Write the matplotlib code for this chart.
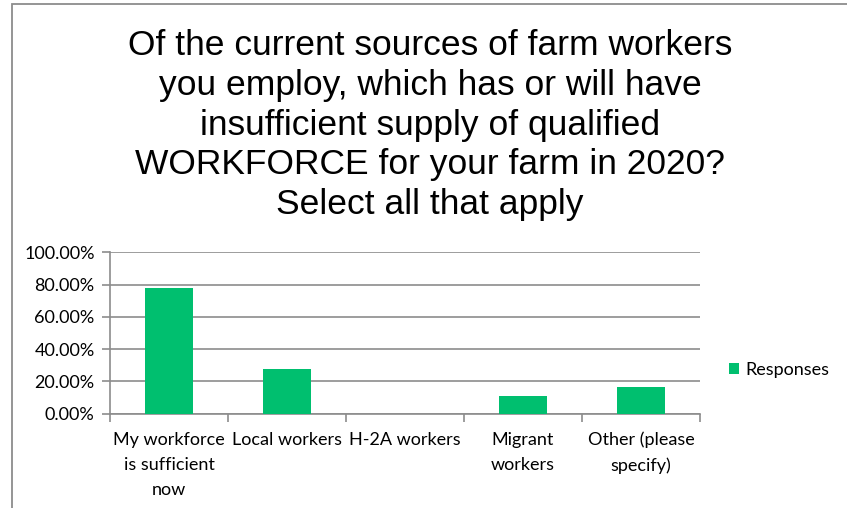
import matplotlib
matplotlib.use("Agg")
from matplotlib import pyplot
from matplotlib.patches import Rectangle
from matplotlib.ticker import FixedLocator, FuncFormatter
import numpy

categories = ["My workforce\nis sufficient\nnow", "Local workers", "H-2A workers",
              "Migrant\nworkers", "Other (please\nspecify)"]
responses = [0.7778, 0.2778, 0.0, 0.1111, 0.1667]
yticks = [0.0, 0.2, 0.4, 0.6, 0.8, 1.0]
title = ("Of the current sources of farm workers\nyou employ, which has or will have\n"
         "insufficient supply of qualified\nWORKFORCE for your farm in 2020?\n"
         "Select all that apply")

green = "#00BF6F"
gray = "#8C8C8C"
W, H = 847, 508

def main():
    fig = pyplot.figure(figsize=(W / 100, H / 100), dpi=100)
    fig.patches.append(Rectangle((11.5 / W, -0.1), 1.1, 1 - 4.5 / H + 0.1,
                                 transform=fig.transFigure, fill=False,
                                 edgecolor=gray, lw=1.3))

    ax = fig.add_axes([110 / W, 1 - 413.7 / H, 590 / W, 161.4 / H])
    x = numpy.arange(len(categories))
    ax.bar(x, responses, width=0.4, color=green, label="Responses", zorder=3)

    ax.set_xlim(-0.5, len(categories) - 0.5)
    ax.set_ylim(0, 1.0)
    ax.set_yticks(yticks)
    ax.yaxis.set_major_formatter(FuncFormatter(lambda v, p: "%.2f%%" % (v * 100)))
    ax.grid(axis="y", color=gray, lw=1.2, zorder=0)

    ax.xaxis.set_major_locator(FixedLocator(numpy.arange(-0.5, len(categories), 1.0)))
    ax.xaxis.set_major_formatter(FuncFormatter(lambda v, p: ""))
    ax.xaxis.set_minor_locator(FixedLocator(x))
    ax.set_xticklabels(categories, minor=True)
    ax.tick_params(axis="x", which="minor", length=0, pad=13)
    ax.tick_params(axis="x", which="major", length=6, color=gray, width=1.2)
    ax.tick_params(axis="y", length=6, color=gray, width=1.2, pad=5)

    for lab in ax.get_xticklabels(minor=True) + ax.get_yticklabels():
        lab.set_fontfamily("Lato")
        lab.set_fontsize(13)
        lab.set_color("#000000")
    for lab in ax.get_xticklabels(minor=True):
        lab.set_linespacing(1.7)

    for s in ["top", "right"]:
        ax.spines[s].set_visible(False)
    for s in ["left", "bottom"]:
        ax.spines[s].set_color(gray)
        ax.spines[s].set_linewidth(1.2)

    fig.text(430 / W, 1 - 125 / H, title, ha="center", va="center",
             fontsize=25.5, fontfamily="Liberation Sans", linespacing=1.26)

    fig.legend(loc="center left", bbox_to_anchor=(713 / W, 1 - 370 / H),
               frameon=False, handlelength=0.55, handleheight=0.55,
               handletextpad=0.35, prop={"family": "Lato", "size": 13})

    pyplot.savefig("out.png", dpi=100)
    pyplot.close()

if __name__ == '__main__':
    main()
